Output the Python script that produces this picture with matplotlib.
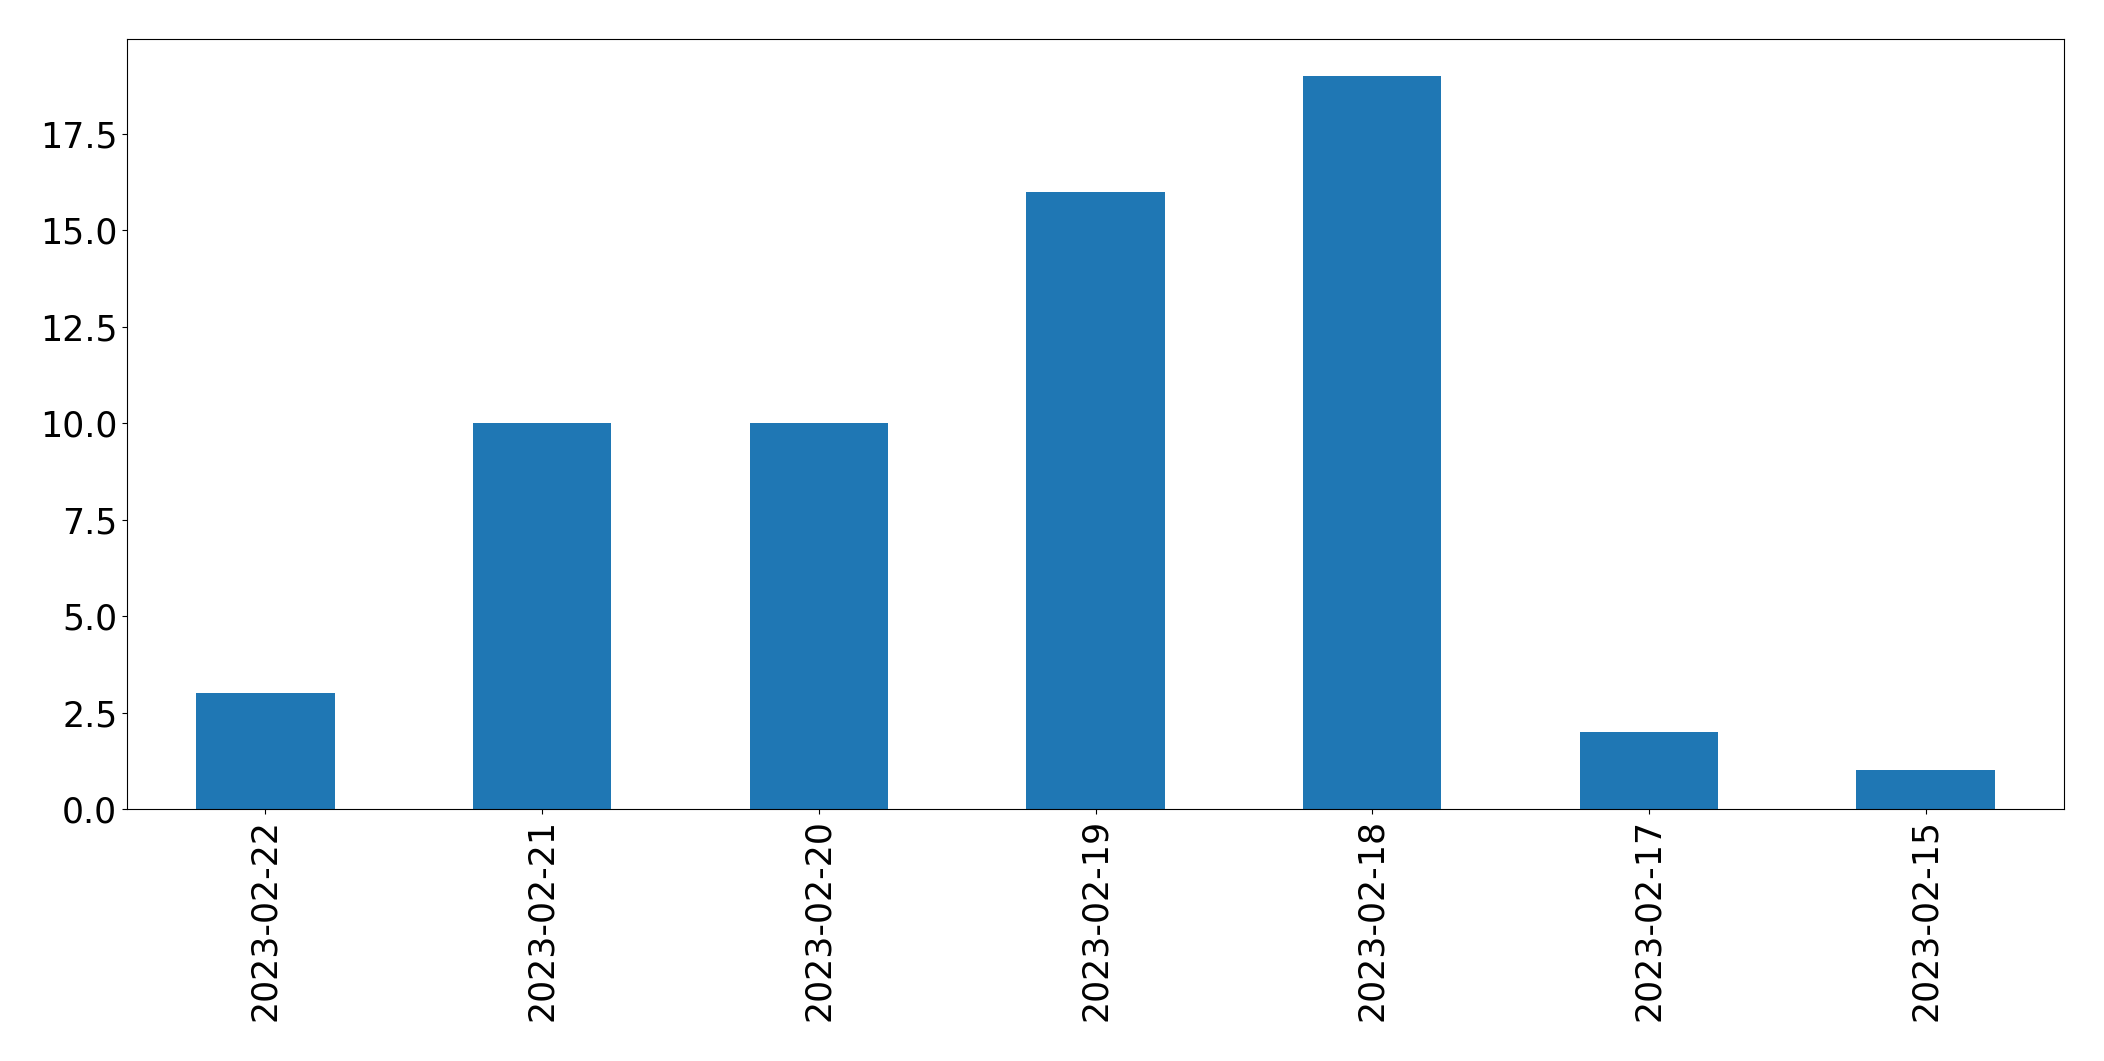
import pandas as pd
import matplotlib
matplotlib.use("Agg")
import matplotlib.pyplot as plt

# counts per day, in the order they appear on the chart
dates = ['2023-02-22', '2023-02-21', '2023-02-20', '2023-02-19',
         '2023-02-18', '2023-02-17', '2023-02-15']
counts = [3, 10, 10, 16, 19, 2, 1]

s = pd.Series(counts, index=dates)

fig = plt.figure(figsize=(21.04, 10.61), dpi=100)
ax = fig.add_subplot(111)
s.plot(kind='bar', ax=ax, color='#1f77b4')
ax.tick_params(axis='both', labelsize=25)

fig.subplots_adjust(left=0.0604, right=0.981, top=0.963, bottom=0.2375)
fig.savefig('out.png', dpi=100)
